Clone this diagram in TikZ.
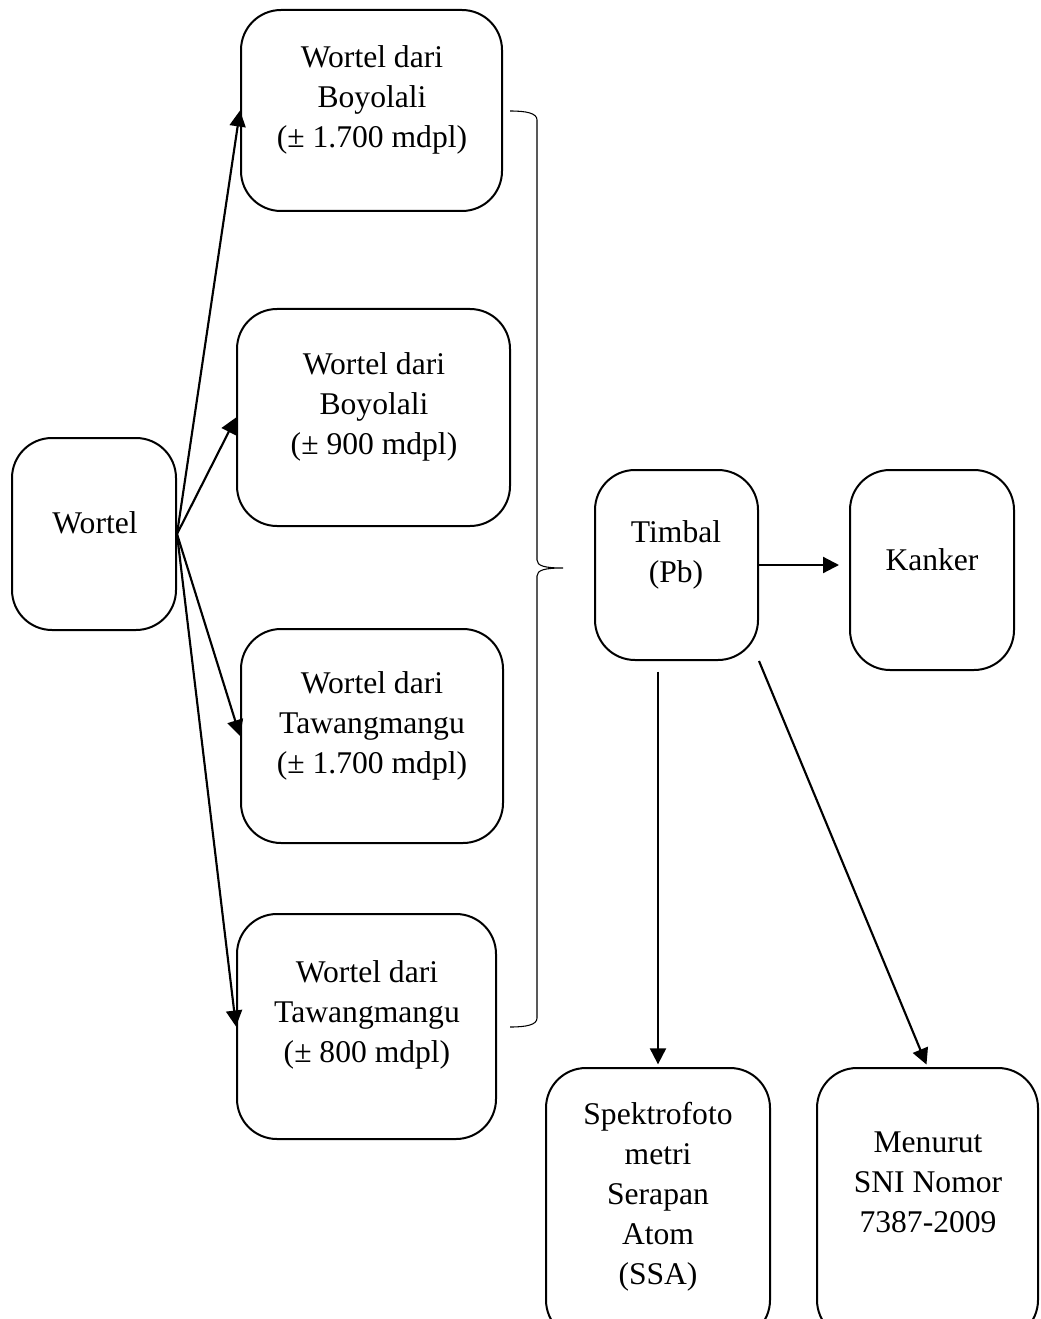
\documentclass[tikz,border=0pt]{standalone}
\usepackage{fontspec}
\setmainfont{Liberation Serif}
\usetikzlibrary{arrows.meta,calc}
\tikzset{
  box/.style={draw, line width=1.5pt, rounded corners=30pt, inner sep=0pt},
  txt/.style={align=center, inner sep=0pt, font=\fontsize{23.7pt}{30pt}\selectfont},
  arr/.style={line width=1.6pt, -{Triangle[length=12pt,width=12pt]}},
  brace/.style={line width=0.8pt}
}
\begin{document}
\begin{tikzpicture}[x=0.75pt,y=-0.75pt]
\clip (0,0) rectangle (1040,1319);
\fill[white] (0,0) rectangle (1040,1319);
% boxes
\node[box, minimum width=123pt, minimum height=144pt] (w) at (94,534) {};
\node[box, minimum width=195.75pt, minimum height=150.75pt] (b1) at (371.5,110.5) {};
\node[box, minimum width=204.75pt, minimum height=162.75pt] (b2) at (373.5,417.5) {};
\node[box, minimum width=196.5pt, minimum height=160.5pt] (b3) at (372,736) {};
\node[box, minimum width=194.25pt, minimum height=168.75pt] (b4) at (366.5,1026.5) {};
\node[box, minimum width=122.25pt, minimum height=142.5pt] (tim) at (676.5,565) {};
\node[box, minimum width=123pt, minimum height=150pt] (kan) at (932,570) {};
\node[box, minimum width=168pt, minimum height=204pt] (ssa) at (658,1204) {};
\node[box, minimum width=165.75pt, minimum height=204pt] (men) at (927.5,1204) {};
% texts
\node[txt] at (95,523) {Wortel};
\node[txt] at (372,100) {Wortel dari\\Boyolali\\(± 1.700 mdpl)};
\node[txt] at (374,407) {Wortel dari\\Boyolali\\(± 900 mdpl)};
\node[txt] at (372,726) {Wortel dari\\Tawangmangu\\(± 1.700 mdpl)};
\node[txt] at (367,1015) {Wortel dari\\Tawangmangu\\(± 800 mdpl)};
\node[txt] at (676,555) {Timbal\\(Pb)};
\node[txt] at (932,560) {Kanker};
\node[txt] at (658,1197) {Spektrofoto\\metri\\Serapan\\Atom\\(SSA)};
\node[txt] at (928,1182) {Menurut\\SNI Nomor\\7387-2009};
% arrows
\draw[arr] (w.east) -- (b1.west);
\draw[arr] (w.east) -- (b2.west);
\draw[arr] (w.east) -- (b3.west);
\draw[arr] (w.east) -- (b4.west);
\draw[arr, shorten >=7.5pt] (tim.east) -- (tim.east -| kan.west);
\draw[arr, shorten <=8pt, shorten >=2pt] (ssa.north |- tim.south) -- (ssa.north);
\draw[arr, shorten >=2pt] (tim.south east) -- (men.north);
% brace
\draw[brace] (510,111) .. controls (526,111) and (537,113) .. (537,120)
  -- (537,560) .. controls (537,566) and (545,568) .. (563,568)
  .. controls (545,568) and (537,570) .. (537,576)
  -- (537,1018) .. controls (537,1025) and (526,1027) .. (510,1027);
\end{tikzpicture}
\end{document}
